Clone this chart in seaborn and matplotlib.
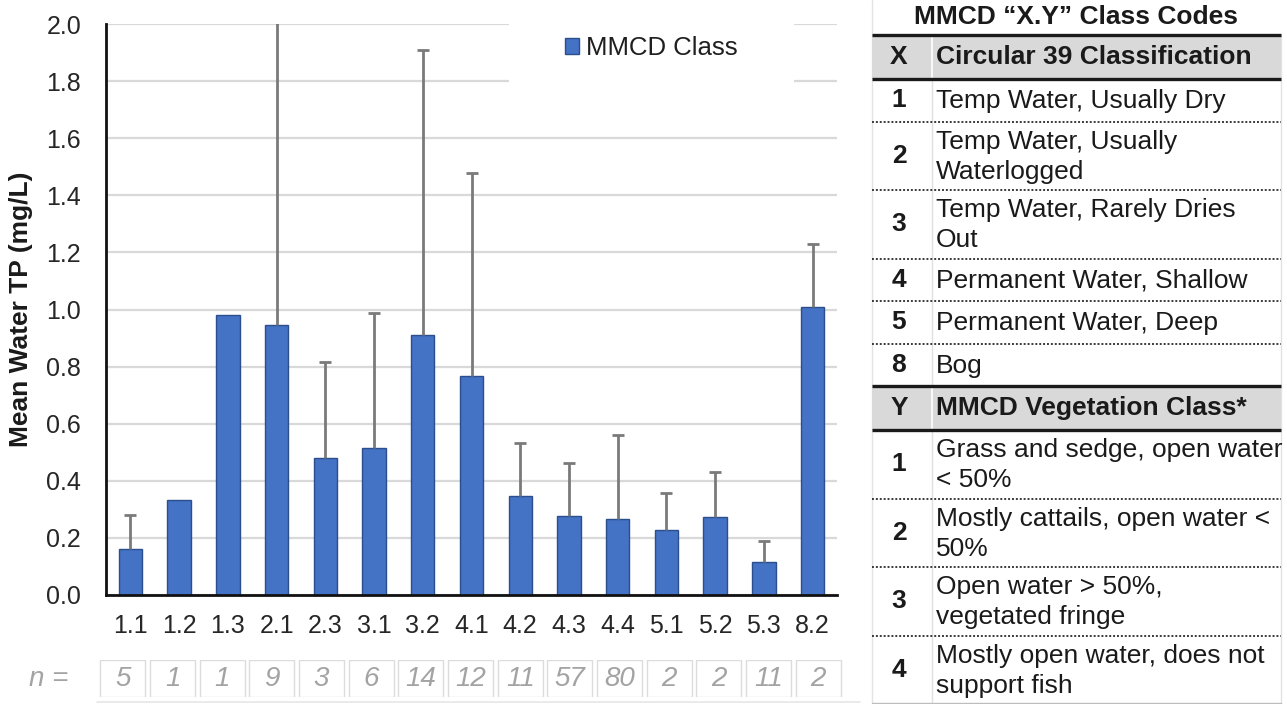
import numpy as np
import pandas as pd
import matplotlib
matplotlib.use("Agg")
import matplotlib.pyplot as plt
from matplotlib.patches import Patch, Rectangle
import seaborn as sns

# ---- chart data -------------------------------------------------------------
classes = ["1.1", "1.2", "1.3", "2.1", "2.3", "3.1", "3.2", "4.1",
           "4.2", "4.3", "4.4", "5.1", "5.2", "5.3", "8.2"]
mean_tp = [0.16, 0.333, 0.98, 0.945, 0.48, 0.515, 0.911, 0.767,
           0.347, 0.277, 0.266, 0.228, 0.273, 0.116, 1.01]
# upper end of the error whisker (NaN where only one site was sampled)
upper_tp = [0.28, np.nan, np.nan, 2.30, 0.816, 0.988, 1.909, 1.478,
            0.532, 0.462, 0.560, 0.357, 0.431, 0.189, 1.229]
n_sites = [5, 1, 1, 9, 3, 6, 14, 12, 11, 57, 80, 2, 2, 11, 2]
y_ticks = [0.0, 0.2, 0.4, 0.6, 0.8, 1.0, 1.2, 1.4, 1.6, 1.8, 2.0]

# ---- class-code key ---------------------------------------------------------
key_title = "MMCD \u201cX.Y\u201d Class Codes"
x_header = ("X", "Circular 39 Classification")
x_codes = ["1", "2", "3", "4", "5", "8"]
x_desc = ["Temp Water, Usually Dry",
          "Temp Water, Usually\nWaterlogged",
          "Temp Water, Rarely Dries\nOut",
          "Permanent Water, Shallow",
          "Permanent Water, Deep",
          "Bog"]
y_header = ("Y", "MMCD Vegetation Class*")
y_codes = ["1", "2", "3", "4"]
y_desc = ["Grass and sedge, open water\n< 50%",
          "Mostly cattails, open water <\n50%",
          "Open water > 50%,\nvegetated fringe",
          "Mostly open water, does not\nsupport fish"]

sns.set_theme(style="white")
plt.rcParams["font.family"] = ["Liberation Sans", "DejaVu Sans"]

W, H = 1287, 704
fig = plt.figure(figsize=(W / 100, H / 100), dpi=100)
fig.patch.set_facecolor("white")

BLUE = "#4472C4"
EDGE = "#2B4E8C"
TEXT = "#262626"

# ---- bar chart ----------------------------------------------------------------
ax = fig.add_axes([106 / W, 1 - 595 / H, (837 - 106) / W, (595 - 24) / H])
df = pd.DataFrame({"cls": classes, "tp": mean_tp})
sns.barplot(data=df, x="cls", y="tp", order=classes, color=BLUE,
            saturation=1, width=0.48, errorbar=None,
            edgecolor=EDGE, linewidth=1.0, ax=ax, zorder=2)

upper = np.asarray(upper_tp, dtype=float)
means = np.asarray(mean_tp, dtype=float)
has_err = np.isfinite(upper)
xpos = np.arange(len(classes))[has_err]
yerr = np.vstack([np.zeros(has_err.sum()), upper[has_err] - means[has_err]])
_, caps, _ = ax.errorbar(xpos, means[has_err], yerr=yerr, fmt="none",
                         ecolor="#7a7a7a", elinewidth=2.0, capsize=4.5,
                         capthick=2.0, zorder=3)
caps[0].set_visible(False)  # one-sided whiskers: hide the lower caps

ax.set_xlim(-0.5, len(classes) - 0.5)
ax.set_ylim(0, 2.0)
ax.set_yticks(y_ticks)
ax.set_yticklabels([f"{t:.1f}" for t in y_ticks])
ax.set_xlabel("")
ax.set_ylabel("Mean Water TP (mg/L)", fontsize=19, fontweight="bold",
              color="#1a1a1a")
ax.yaxis.set_label_coords(-0.100, 0.5)
ax.yaxis.label.set_va("bottom")
ax.tick_params(axis="both", length=0, labelsize=18, labelcolor=TEXT)
ax.tick_params(axis="x", pad=14)
ax.tick_params(axis="y", pad=18)
ax.yaxis.grid(True, color="#d9d9d9", linewidth=1.6)
ax.set_axisbelow(True)
for side in ("top", "right"):
    ax.spines[side].set_visible(False)
for side in ("left", "bottom"):
    ax.spines[side].set_color("#111111")
    ax.spines[side].set_linewidth(2.0)

leg = ax.legend(handles=[Patch(facecolor=BLUE, edgecolor=EDGE,
                               label="MMCD Class")],
                loc="center", bbox_to_anchor=(0.746, 0.958),
                fontsize=18.5, frameon=True, framealpha=1.0,
                facecolor="white", edgecolor="none", borderpad=2.2,
                handlelength=0.55, handleheight=0.55, handletextpad=0.25)
leg.set_zorder(1.5)
for t in leg.get_texts():
    t.set_color("#1f1f1f")

# ---- sample-size row -------------------------------------------------------------
axn = fig.add_axes([98 / W, 1 - 697 / H, (843 - 98) / W, (697 - 660) / H])
axn.set_xlim(-0.5, len(classes) - 0.5)
axn.set_ylim(0, 1)
axn.axis("off")
for i, n in enumerate(n_sites):
    axn.add_patch(Rectangle((i - 0.45, 0), 0.9, 1, facecolor="white",
                            edgecolor="#dcdcdc", linewidth=1.0))
    axn.text(i, 0.5, str(n), ha="center", va="center", fontsize=20,
             style="italic", color="#a3a3a3")
fig.text(49 / W, 1 - 679 / H, "n =", ha="center", va="center", fontsize=20,
         style="italic", color="#a3a3a3")
fig.add_artist(plt.Line2D([97 / W, 860 / W], [1 - 702 / H, 1 - 702 / H],
                          color="#e6e6e6", linewidth=1.2))

# ---- class-code key table -------------------------------------------------
axt = fig.add_axes([860 / W, 0, (W - 860) / W, 1])
axt.set_xlim(860, W)
axt.set_ylim(H, 0)
axt.axis("off")

left, right = 872, 1281
code_x, desc_x, divider_x = 899, 936, 932
header_h = 44
line_h, row_pad = 26, 16.5
FS = 19

axt.text((left + right) / 2, 17, key_title, ha="center", va="center",
         fontsize=FS, fontweight="bold", color="#1a1a1a")


def thick(y):
    axt.plot([left, right], [y, y], color="#1a1a1a", lw=2.4,
             solid_capstyle="butt", zorder=4)


def dotted(y):
    axt.plot([left, right], [y, y], color="#3a3a3a", lw=1.4,
             linestyle=(0, (1, 1)), zorder=4)


def header(y, labels):
    axt.add_patch(Rectangle((left, y), right - left, header_h,
                            facecolor="#d9d9d9", edgecolor="none", zorder=1))
    axt.plot([divider_x, divider_x], [y, y + header_h], color="white",
             lw=1.2, zorder=2)
    thick(y)
    thick(y + header_h)
    yc = y + header_h / 2
    axt.text(code_x, yc, labels[0], ha="center", va="center", fontsize=FS,
             fontweight="bold", color="#1a1a1a", zorder=5)
    axt.text(desc_x, yc, labels[1], ha="left", va="center", fontsize=FS,
             fontweight="bold", color="#1a1a1a", zorder=5)
    return y + header_h


def body(y, codes, descs):
    for k, (c, d) in enumerate(zip(codes, descs)):
        nlines = d.count("\n") + 1
        h = row_pad + line_h * nlines
        yc = y + h / 2
        axt.text(code_x, yc, c, ha="center", va="center", fontsize=FS,
                 fontweight="bold", color="#1a1a1a")
        axt.text(desc_x, yc + 1, d, ha="left", va="center", fontsize=FS,
                 color="#1a1a1a", linespacing=1.32)
        y += h
        if k < len(codes) - 1:
            dotted(y)
    return y


top = 35
y = header(top, x_header)
y = body(y, x_codes, x_desc)
y = header(y, y_header)
y = body(y, y_codes, y_desc)

axt.plot([divider_x, divider_x], [top + header_h, y], color="#e0e0e0",
         lw=1.0, zorder=0)
axt.plot([left, left], [0, y], color="#e3e3e3", lw=1.0, zorder=0)
axt.plot([right, right], [top, y], color="#e3e3e3", lw=1.0, zorder=0)
axt.plot([left, right], [y - 1, y - 1], color="#bdbdbd", lw=1.0, zorder=0)

fig.savefig("out.png", dpi=100, facecolor="white")
